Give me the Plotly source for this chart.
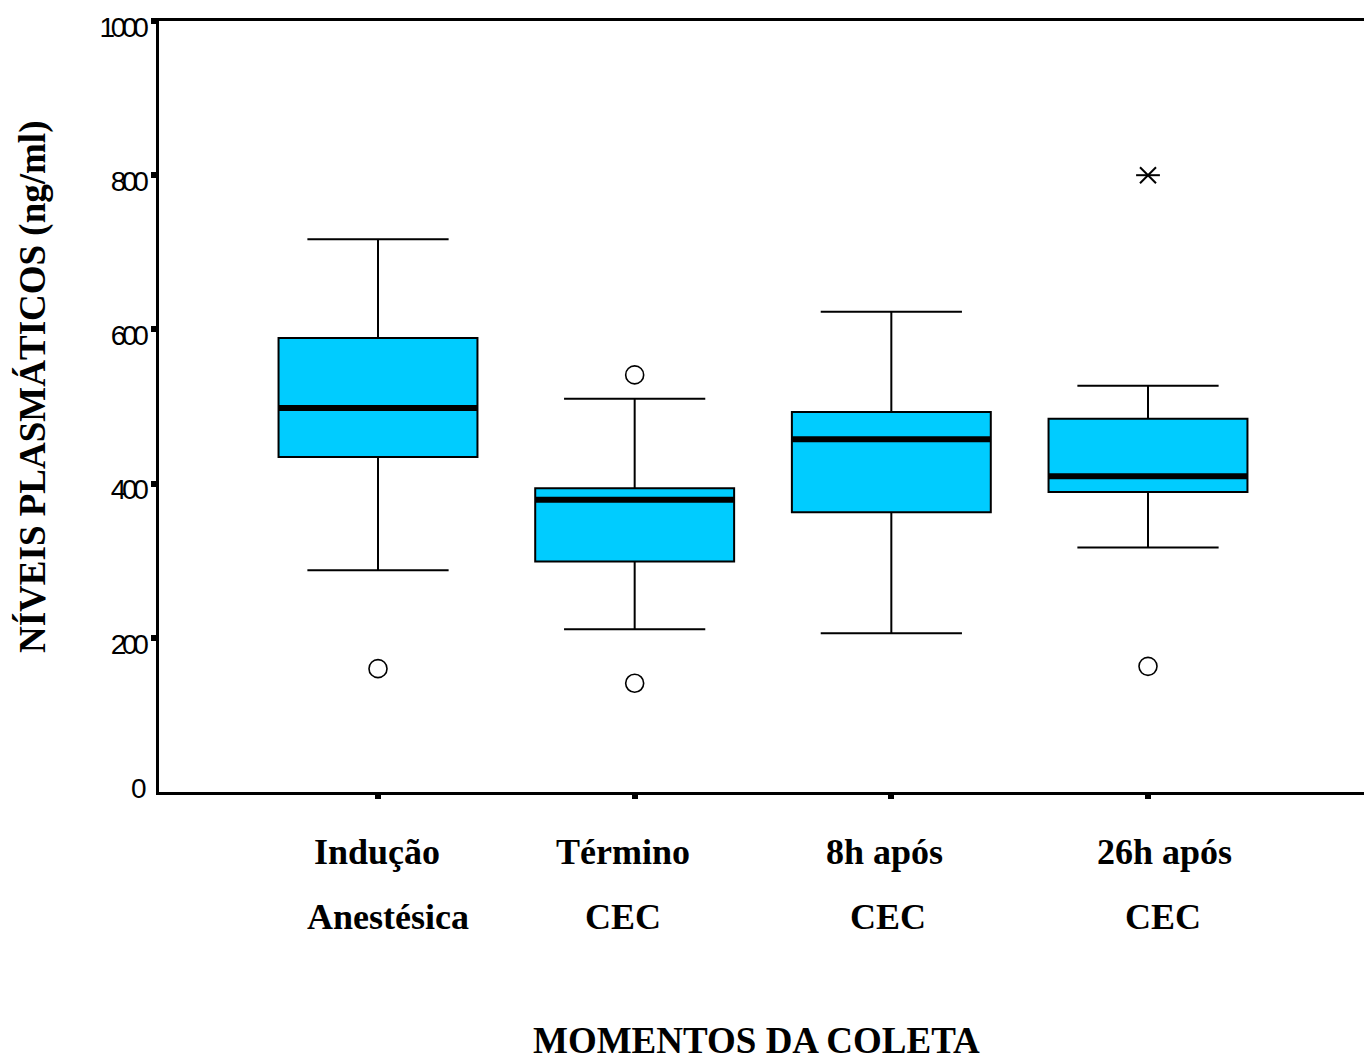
import plotly.graph_objects as go

# ---- data ----
cat_line1 = ["Indução", "Término", "8h após", "26h após"]
cat_line2 = ["Anestésica", "CEC", "CEC", "CEC"]
lower_whisker = [287.5, 211, 206, 317]
q1_vals = [434.5, 299, 363, 389]
median_vals = [498, 379, 457.5, 409.5]
q3_vals = [589, 394, 493, 484]
upper_whisker = [717, 510, 623, 527]
outlier_pos = [0, 1, 1, 3]
outlier_vals = [160, 541, 141, 163]
extreme_pos = [3]
extreme_vals = [800]
y_ticks = [200, 400, 600, 800, 1000]

# ---- layout constants ----
W, H = 1364, 1062
L, R, T, B = 159, 0, 21, 270
BOX_W = 0.775
FILL = "#00CCFF"
SERIF = "Liberation Serif, Times New Roman, serif"
SANS = "Liberation Sans, Arial, sans-serif"

xpos = list(range(len(cat_line1)))

fig = go.Figure()

fig.add_trace(go.Box(
    x=xpos, q1=q1_vals, median=median_vals, q3=q3_vals,
    lowerfence=lower_whisker, upperfence=upper_whisker,
    width=BOX_W, whiskerwidth=0.71,
    fillcolor=FILL, line=dict(color="black", width=2),
    boxpoints=False, hoverinfo="skip", showlegend=False,
))

# thick median lines
mx, my = [], []
for i, m in zip(xpos, median_vals):
    mx += [i - BOX_W / 2, i + BOX_W / 2, None]
    my += [m, m, None]
fig.add_trace(go.Scatter(x=mx, y=my, mode="lines",
                         line=dict(color="black", width=6),
                         showlegend=False, hoverinfo="skip"))

# outliers (open circles)
fig.add_trace(go.Scatter(x=outlier_pos, y=outlier_vals, mode="markers",
                         marker=dict(symbol="circle-open", size=18,
                                     color="black", line=dict(width=1.6)),
                         showlegend=False))
# extreme (asterisk: horizontal bar + X)
fig.add_trace(go.Scatter(x=extreme_pos, y=extreme_vals, mode="markers",
                         marker=dict(symbol="x-thin-open", size=16,
                                     color="black", line=dict(width=2)),
                         showlegend=False))
fig.add_trace(go.Scatter(x=extreme_pos, y=extreme_vals, mode="markers",
                         marker=dict(symbol="line-ew-open", size=17,
                                     color="black", line=dict(width=2)),
                         showlegend=False))

plot_w = W - L - R
plot_h = H - T - B
px_per_unit = (1148 - 378) / 3
x_lo = -(378 - L) / px_per_unit
x_hi = x_lo + plot_w / px_per_unit

fig.update_layout(
    width=W, height=H,
    margin=dict(l=L, r=R, t=T, b=B, pad=0),
    paper_bgcolor="white", plot_bgcolor="white",
    showlegend=False,
    xaxis=dict(range=[x_lo, x_hi], tickvals=xpos, ticktext=["" for _ in xpos],
               showgrid=False, zeroline=False,
               showline=True, linecolor="black", linewidth=2.5, mirror=True,
               ticks="outside", ticklen=4, tickwidth=6, tickcolor="black"),
    yaxis=dict(range=[0, 1000], tickvals=y_ticks, ticktext=[str(v) for v in y_ticks],
               showgrid=False, zeroline=False,
               showline=True, linecolor="black", linewidth=2.5,
               ticks="outside", ticklen=5, tickwidth=6, tickcolor="black",
               ticklabelshift=6, ticklabelstandoff=1,
               tickfont=dict(family=SANS, size=28, color="black")),
)

def px_x(p):
    return (p - L) / plot_w

def px_y(p):
    return (H - B - p) / plot_h

annotations = []
line1_x = [377, 623, 884, 1164]
line2_x = [388, 623, 888, 1163]
for t1, t2, x1, x2 in zip(cat_line1, cat_line2, line1_x, line2_x):
    annotations.append(dict(text=f"<b>{t1}</b>", x=px_x(x1), y=px_y(852),
                            xref="paper", yref="paper", showarrow=False,
                            xanchor="center", yanchor="middle",
                            font=dict(family=SERIF, size=36, color="black")))
    annotations.append(dict(text=f"<b>{t2}</b>", x=px_x(x2), y=px_y(917),
                            xref="paper", yref="paper", showarrow=False,
                            xanchor="center", yanchor="middle",
                            font=dict(family=SERIF, size=36, color="black")))
annotations.append(dict(text="<b>MOMENTOS DA COLETA</b>", x=px_x(756), y=px_y(1040),
                        xref="paper", yref="paper", showarrow=False,
                        xanchor="center", yanchor="middle",
                        font=dict(family=SERIF, size=37, color="black")))
annotations.append(dict(text="<b>NÍVEIS PLASMÁTICOS (ng/ml)</b>", x=px_x(33), y=px_y(387),
                        xref="paper", yref="paper", showarrow=False, textangle=-90,
                        xanchor="center", yanchor="middle",
                        font=dict(family=SERIF, size=37, color="black")))
annotations.append(dict(text="0", x=px_x(149), y=px_y(788),
                        xref="paper", yref="paper", showarrow=False,
                        xanchor="right", yanchor="middle",
                        font=dict(family=SANS, size=28, color="black")))
fig.update_layout(annotations=annotations)

# tighten the digit spacing of the y tick labels (condensed look of the original)
css_js = (
    "var s=document.createElement('style');"
    "s.textContent='.ytick text{letter-spacing:-4.3px;}';"
    "document.head.appendChild(s);"
)
fig.write_html("out.html", post_script=css_js)
